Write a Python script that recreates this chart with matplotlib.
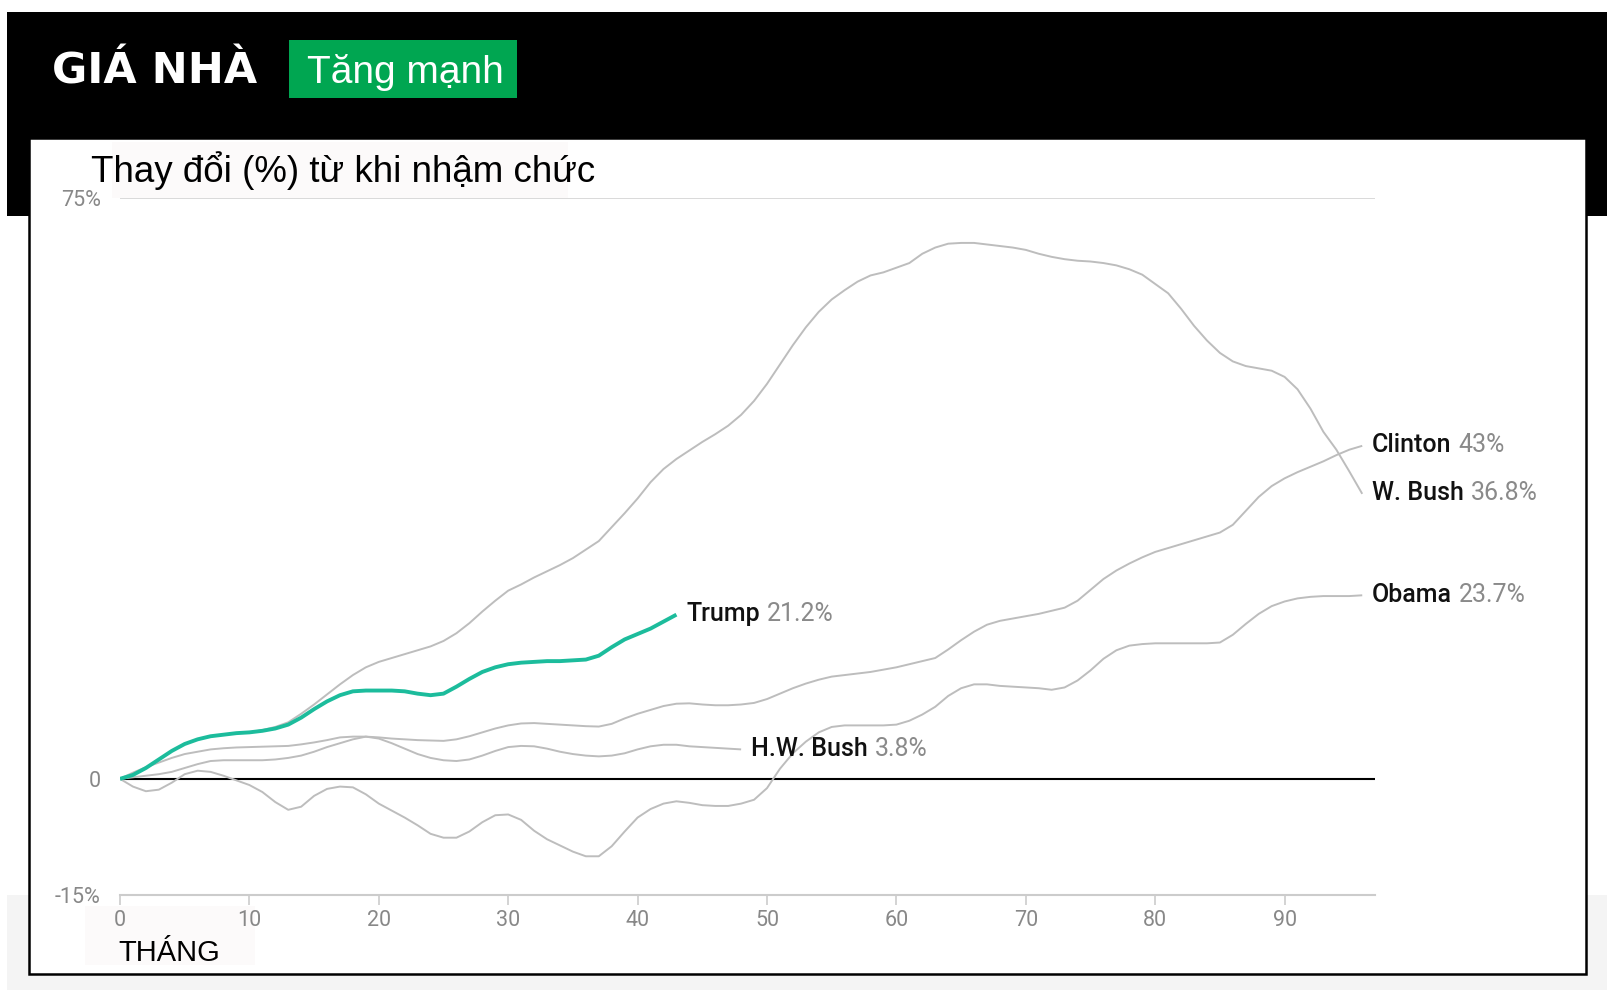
import matplotlib.pyplot as plt
from matplotlib.patches import Rectangle

# Percent change in home prices since inauguration, one value per month
trump = [0, 0.5, 1.4, 2.5, 3.6, 4.5, 5.1, 5.5, 5.7, 5.9, 6.0, 6.2, 6.5, 7.0,
         7.9, 9.0, 10.0, 10.8, 11.3, 11.4, 11.4, 11.4, 11.3, 11.0, 10.8, 11.0,
         11.9, 12.9, 13.8, 14.4, 14.8, 15.0, 15.1, 15.2, 15.2, 15.3, 15.4,
         15.9, 17.0, 18.0, 18.7, 19.4, 20.3, 21.2]

w_bush = [0, 0.5, 1.4, 2.5, 3.6, 4.5, 5.1, 5.5, 5.7, 5.9, 6.0, 6.3, 6.7, 7.3,
          8.4, 9.6, 10.9, 12.2, 13.4, 14.4, 15.1, 15.6, 16.1, 16.6, 17.1,
          17.8, 18.8, 20.1, 21.6, 23.0, 24.3, 25.1, 26.0, 26.8, 27.6, 28.5,
          29.6, 30.7, 32.5, 34.3, 36.2, 38.3, 40.0, 41.3, 42.4, 43.5, 44.5,
          45.6, 47.0, 48.8, 51.0, 53.5, 56.0, 58.3, 60.3, 61.9, 63.1, 64.2,
          65.0, 65.4, 66.0, 66.6, 67.8, 68.6, 69.1, 69.2, 69.2, 69.0, 68.8,
          68.6, 68.3, 67.8, 67.4, 67.1, 66.9, 66.8, 66.6, 66.3, 65.8, 65.1,
          63.9, 62.7, 60.7, 58.5, 56.6, 55.0, 53.9, 53.3, 53.0, 52.7, 51.9,
          50.3, 47.8, 44.8, 42.5, 39.7, 36.8]

clinton = [0, 0.8, 1.5, 2.1, 2.7, 3.2, 3.5, 3.8, 3.95, 4.05, 4.1, 4.15, 4.2,
           4.25, 4.45, 4.7, 5.0, 5.35, 5.45, 5.45, 5.35, 5.2, 5.1, 5.0, 4.95,
           4.9, 5.1, 5.5, 6.0, 6.5, 6.9, 7.15, 7.2, 7.1, 7.0, 6.9, 6.8, 6.75,
           7.1, 7.8, 8.4, 8.9, 9.4, 9.7, 9.75, 9.6, 9.5, 9.5, 9.6, 9.8, 10.3,
           11.0, 11.7, 12.3, 12.8, 13.2, 13.4, 13.6, 13.8, 14.1, 14.4, 14.8,
           15.2, 15.6, 16.7, 17.9, 19.0, 19.9, 20.4, 20.7, 21.0, 21.3, 21.7,
           22.1, 23.0, 24.4, 25.8, 26.9, 27.8, 28.6, 29.3, 29.8, 30.3, 30.8,
           31.3, 31.8, 32.8, 34.6, 36.4, 37.8, 38.8, 39.6, 40.3, 41.0, 41.8,
           42.5, 43.0]

obama = [0, -1.0, -1.6, -1.4, -0.5, 0.6, 1.05, 0.9, 0.4, -0.2, -0.8, -1.7,
         -3.0, -4.0, -3.6, -2.2, -1.3, -1.0, -1.1, -2.0, -3.2, -4.1, -5.0,
         -6.0, -7.1, -7.6, -7.6, -6.8, -5.6, -4.7, -4.6, -5.3, -6.7, -7.8,
         -8.6, -9.4, -10.0, -10.0, -8.7, -6.8, -5.0, -3.9, -3.2, -2.9, -3.1,
         -3.4, -3.5, -3.5, -3.2, -2.7, -1.2, 1.3, 3.3, 4.8, 6.0, 6.7, 6.9,
         6.9, 6.9, 6.9, 7.0, 7.5, 8.3, 9.3, 10.7, 11.7, 12.2, 12.2, 12.0,
         11.9, 11.8, 11.7, 11.5, 11.8, 12.7, 14.0, 15.5, 16.6, 17.2, 17.4,
         17.5, 17.5, 17.5, 17.5, 17.5, 17.6, 18.6, 20.0, 21.3, 22.3, 22.9,
         23.3, 23.5, 23.6, 23.6, 23.6, 23.7]

hw_bush = [0, 0.2, 0.4, 0.6, 0.9, 1.4, 1.9, 2.3, 2.4, 2.4, 2.4, 2.4, 2.5,
           2.7, 3.0, 3.5, 4.1, 4.6, 5.1, 5.45, 5.2, 4.6, 3.9, 3.2, 2.7, 2.4,
           2.3, 2.5, 3.0, 3.6, 4.1, 4.25, 4.2, 3.9, 3.5, 3.2, 3.0, 2.9, 3.0,
           3.3, 3.8, 4.2, 4.4, 4.4, 4.2, 4.1, 4.0, 3.9, 3.8]

names = ["Clinton", "W. Bush", "Obama", "H.W. Bush", "Trump"]
end_labels = ["43%", "36.8%", "23.7%", "3.8%", "21.2%"]

y_ticks = [-15, 0, 75]
y_tick_labels = ["-15%", "0", "75%"]
x_ticks = list(range(0, 100, 10))

W, H = 1614, 990
GRAY = "#bdbdbd"
GREEN = "#1cbc9c"


def main():
    fig = plt.figure(figsize=(W / 100, H / 100), dpi=100)

    # Background decoration in pixel coordinates
    bg = fig.add_axes([0, 0, 1, 1], zorder=0)
    bg.set_xlim(0, W)
    bg.set_ylim(H, 0)
    bg.axis("off")
    bg.add_patch(Rectangle((7, 895), 1600, 95, color="#f4f4f4", lw=0))
    bg.add_patch(Rectangle((7, 12), 1600, 204, color="black", lw=0))
    bg.add_patch(Rectangle((29, 138), 1557, 836, facecolor="white",
                           edgecolor="black", lw=1.8))
    bg.add_patch(Rectangle((289, 40), 228, 58, color="#00a651", lw=0))
    bg.add_patch(Rectangle((85, 906), 170, 59, color="#fcfafa", lw=0))
    bg.text(52, 84, "GIÁ NHÀ", color="white", fontsize=31,
            fontweight="bold", family="DejaVu Sans", va="baseline")
    bg.text(307, 83, "Tăng mạnh", color="white", fontsize=28,
            family="Liberation Sans", va="baseline")
    bg.text(118, 961, "THÁNG", color="black", fontsize=21,
            family="Liberation Sans", va="baseline")

    # Main chart
    ax = fig.add_axes([120 / W, 1 - 895 / H, 97 * 12.94 / W, (895 - 198) / H],
                      zorder=1)
    ax.patch.set_alpha(0)
    ax.set_xlim(0, 97)
    ax.set_ylim(-15, 75)

    ax.axhline(75, color="#d0d0d0", lw=1.1, zorder=1)
    ax.axhline(0, color="black", lw=1.5, zorder=2)

    series = [clinton, w_bush, obama, hw_bush, trump]
    for name, vals, lab in zip(names, series, end_labels):
        is_trump = name == "Trump"
        ax.plot(range(len(vals)), vals,
                color=GREEN if is_trump else GRAY,
                lw=2.8 if is_trump else 1.4,
                solid_joinstyle="round", solid_capstyle="butt",
                zorder=4 if is_trump else 3)
        t = ax.annotate(name, xy=(len(vals) - 1, vals[-1]), xytext=(7, -4.5),
                        textcoords="offset points", va="baseline", ha="left",
                        fontsize=18, fontweight="medium", family="Roboto",
                        color="#111111")
        ax.annotate(lab, xy=(1, 0), xycoords=t, xytext=(5, 0),
                    textcoords="offset points", va="bottom", ha="left",
                    fontsize=18, family="Roboto", color="#8a8a8a")

    for side in ["top", "right", "left"]:
        ax.spines[side].set_visible(False)
    ax.spines["bottom"].set_color("#cccccc")
    ax.spines["bottom"].set_linewidth(1.5)

    ax.set_yticks(y_ticks)
    ax.set_yticklabels(y_tick_labels)
    ax.set_xticks(x_ticks)
    ax.tick_params(axis="y", length=0, pad=14)
    ax.tick_params(axis="x", length=7, width=1.2, color="#cccccc", pad=4)
    for lbl in ax.get_xticklabels() + ax.get_yticklabels():
        lbl.set_family("Roboto")
        lbl.set_fontsize(15.5)
        lbl.set_color("#888888")

    # Foreground: subtitle box sits over the top gridline
    fg = fig.add_axes([0, 0, 1, 1], zorder=2)
    fg.set_xlim(0, W)
    fg.set_ylim(H, 0)
    fg.axis("off")
    fg.patch.set_alpha(0)
    fg.add_patch(Rectangle((112, 142), 456, 56, color="#fcfafa", lw=0))
    fg.text(91, 182, "Thay đổi (%) từ khi nhậm chức", color="black",
            fontsize=26.5, family="Liberation Sans", va="baseline")

    fig.savefig("out.png", dpi=100)


if __name__ == "__main__":
    main()
